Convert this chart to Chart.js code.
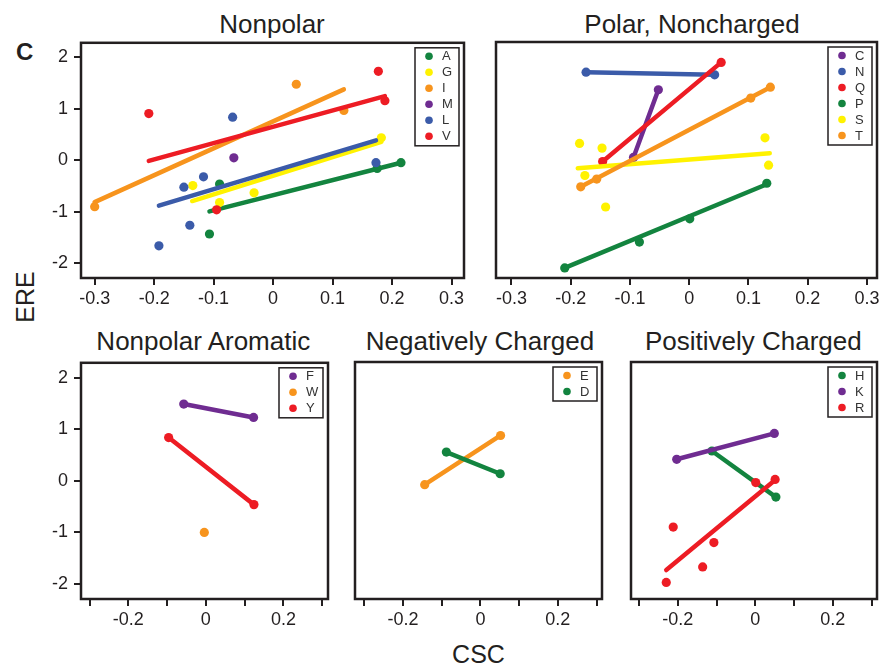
<!DOCTYPE html>
<html>
<head>
<meta charset="utf-8">
<script src="https://cdn.jsdelivr.net/npm/chart.js@4.4.1/dist/chart.umd.min.js"></script>
<style>
  body { margin: 0; background: #fff; }
  #wrap { position: relative; width: 881px; height: 668px; overflow: hidden;
          font-family: "Liberation Sans", Arial, sans-serif; color: #231f20; }
  #wrap canvas { position: absolute; }
  .txt { position: absolute; white-space: nowrap; }
  .title { font-size: 26px; line-height: 26px; transform: translateX(-50%); }
</style>
</head>
<body>
<div id="wrap">
  <div class="txt" style="left:24.7px; top:39.7px; font-size:24px; line-height:24px; font-weight:bold; transform:translateX(-50%);">C</div>
  <div class="txt title" style="left:272px; top:10.5px;">Nonpolar</div>
  <div class="txt title" style="left:692px; top:10.5px;">Polar, Noncharged</div>
  <div class="txt title" style="left:203.3px; top:328px;">Nonpolar Aromatic</div>
  <div class="txt title" style="left:480px; top:328px;">Negatively Charged</div>
  <div class="txt title" style="left:753.3px; top:328px;">Positively Charged</div>
  <div class="txt" style="left:25.2px; top:297px; font-size:25px; line-height:25px; transform:translate(-50%,-50%) rotate(-90deg);">ERE</div>
  <div class="txt" style="left:478.5px; top:642px; font-size:25px; line-height:25px; transform:translateX(-50%);">CSC</div>
</div>
<script>
  // tick values and labels
  const xTicks = [-0.3, -0.2, -0.1, 0, 0.1, 0.2, 0.3];
  const xLabelsTop = ['-0.3', '-0.2', '-0.1', '0', '0.1', '0.2', '0.3'];
  const xLabelsBottom = ['', '-0.2', '', '0', '', '0.2', ''];
  const yTicks = [-2, -1, 0, 1, 2];
  const yLabels = ['-2', '-1', '0', '1', '2'];

  // Nonpolar  [CSC, ERE]
  const ptsA = [[-0.107, -1.43], [-0.090, -0.46], [0.175, -0.155], [0.215, -0.045]];
  const fitA = [[-0.107, -0.99], [0.215, -0.045]];
  const ptsG = [[-0.135, -0.49], [-0.090, -0.82], [-0.032, -0.63], [0.182, 0.44]];
  const fitG = [[-0.136, -0.79], [0.182, 0.36]];
  const ptsI = [[-0.300, -0.90], [0.039, 1.48], [0.119, 0.97]];
  const fitI = [[-0.300, -0.81], [0.119, 1.38]];
  const ptsM = [[-0.066, 0.05]];
  const ptsL = [[-0.192, -1.66], [-0.150, -0.52], [-0.140, -1.26], [-0.117, -0.32], [-0.068, 0.84], [0.173, -0.045]];
  const fitL = [[-0.192, -0.88], [0.173, 0.39]];
  const ptsV = [[-0.209, 0.91], [-0.095, -0.96], [0.177, 1.73], [0.188, 1.16]];
  const fitV = [[-0.209, -0.01], [0.188, 1.25]];

  // Polar, Noncharged
  const ptsC = [[-0.094, 0.05], [-0.052, 1.36]];
  const ptsN = [[-0.174, 1.70], [0.043, 1.65]];
  const ptsQ = [[-0.146, -0.03], [0.054, 1.89]];
  const ptsP = [[-0.210, -2.09], [-0.084, -1.59], [0.001, -1.14], [0.131, -0.45]];
  const fitP = [[-0.210, -2.09], [0.131, -0.47]];
  const ptsS = [[-0.185, 0.32], [-0.147, 0.23], [-0.176, -0.30], [-0.141, -0.91], [0.128, 0.43], [0.134, -0.10]];
  const fitS = [[-0.188, -0.16], [0.136, 0.13]];
  const ptsT = [[-0.183, -0.52], [-0.156, -0.37], [0.104, 1.20], [0.137, 1.41]];
  const fitT = [[-0.183, -0.52], [0.137, 1.41]];

  // Nonpolar Aromatic
  const ptsF = [[-0.057, 1.49], [0.123, 1.23]];
  const ptsW = [[-0.004, -1.00]];
  const ptsY = [[-0.096, 0.84], [0.124, -0.46]];

  // Negatively Charged
  const ptsE = [[-0.144, -0.08], [0.052, 0.87]];
  const ptsD = [[-0.088, 0.55], [0.051, 0.13]];

  // Positively Charged
  const ptsH = [[-0.112, 0.57], [0.053, -0.32]];
  const ptsK = [[-0.203, 0.41], [0.049, 0.91]];
  const ptsR = [[-0.230, -1.97], [-0.212, -0.90], [-0.136, -1.67], [-0.107, -1.20], [0.001, -0.04], [0.051, 0.02]];
  const fitR = [[-0.230, -1.73], [0.051, 0.01]];

  const INK = '#231f20';
  const FONT = '"Liberation Sans", Arial, sans-serif';
  const GREEN = '#13843f', YELLOW = '#fff200', ORANGE = '#f7941d',
        PURPLE = '#6f2c91', BLUE = '#3b5ba9', RED = '#ed1c24';

  const wrap = document.getElementById('wrap');

  // box around the plot area
  const boxFrame = {
    id: 'boxFrame',
    afterDraw(chart) {
      const a = chart.chartArea, c = chart.ctx;
      c.save();
      c.strokeStyle = INK;
      c.lineWidth = 2.5;
      c.strokeRect(a.left, a.top, a.right - a.left, a.bottom - a.top);
      c.restore();
    }
  };

  // small boxed legend in the top right corner
  function boxLegend(series) {
    return {
      id: 'boxLegend',
      afterDraw(chart) {
        const a = chart.chartArea, c = chart.ctx;
        const w = 44, rowH = 16, h = series.length * rowH + 2;
        const x0 = a.right - 5 - w, y0 = a.top + 5;
        c.save();
        c.fillStyle = '#fff';
        c.fillRect(x0, y0, w, h);
        c.strokeStyle = INK;
        c.lineWidth = 1.5;
        c.strokeRect(x0, y0, w, h);
        c.font = '13px ' + FONT;
        c.textBaseline = 'middle';
        c.textAlign = 'left';
        series.forEach((s, i) => {
          const cy = y0 + 8.5 + i * rowH;
          c.fillStyle = s.color;
          c.beginPath();
          c.arc(x0 + 14, cy, 3.8, 0, Math.PI * 2);
          c.fill();
          c.fillStyle = '#333';
          c.fillText(s.name, x0 + 27, cy + 0.5);
        });
        c.restore();
      }
    };
  }

  const xy = arr => arr.map(p => ({ x: p[0], y: p[1] }));

  function makePanel(f, series, xLabels, showY) {
    // padT is larger than half a tick label so Chart.js keeps the plot top where we put it
    const padL = 50, padT = 16, padR = 8, axisH = 40;
    const cv = document.createElement('canvas');
    cv.width = f.w + padL + padR;
    cv.height = f.h + padT + axisH;
    cv.style.left = (f.left - padL) + 'px';
    cv.style.top = (f.top - padT) + 'px';
    wrap.appendChild(cv);

    const datasets = [];
    series.forEach(s => {
      datasets.push({
        data: xy(s.pts),
        backgroundColor: s.color,
        pointBorderWidth: 0,
        pointRadius: 4.6,
        pointHoverRadius: 4.6,
        showLine: false
      });
      const line = s.fit || (s.pts.length > 1 ? s.pts : null);
      if (line) {
        datasets.push({
          data: xy(line),
          borderColor: s.color,
          borderWidth: 4.5,
          borderCapStyle: 'round',
          pointRadius: 0,
          showLine: true,
          fill: false
        });
      }
    });
    // first dataset is painted last, so the last series ends up on top
    datasets.reverse();

    new Chart(cv, {
      type: 'scatter',
      data: { datasets: datasets },
      options: {
        responsive: false,
        animation: false,
        events: [],
        layout: { padding: { left: 0, top: padT, right: padR, bottom: 0 } },
        plugins: { legend: { display: false }, tooltip: { enabled: false } },
        scales: {
          x: {
            type: 'linear',
            position: 'bottom',
            min: f.xMin,
            max: f.xMax,
            afterBuildTicks: s => { s.ticks = xTicks.map(v => ({ value: v })); },
            afterFit: s => { s.height = axisH; },
            ticks: {
              callback: (v, i) => xLabels[i],
              font: { size: 18, family: FONT },
              color: INK,
              padding: 3,
              maxRotation: 0,
              autoSkip: false
            },
            grid: { drawOnChartArea: false, drawTicks: true, tickLength: 7, lineWidth: 2, color: INK },
            border: { display: false }
          },
          y: {
            type: 'linear',
            min: f.yMin,
            max: f.yMax,
            afterBuildTicks: s => { s.ticks = yTicks.map(v => ({ value: v })); },
            afterFit: s => { s.width = padL; },
            ticks: {
              display: showY,
              callback: (v, i) => yLabels[i],
              font: { size: 18, family: FONT },
              color: INK,
              padding: 6
            },
            grid: { display: showY, drawOnChartArea: false, drawTicks: true, tickLength: 7, lineWidth: 2, color: INK },
            border: { display: false }
          }
        }
      },
      plugins: [boxFrame, boxLegend(series)]
    });
  }

  makePanel({ left: 81, top: 42, w: 383, h: 236, xMin: -0.323, xMax: 0.321, yMin: -2.285, yMax: 2.285 }, [
    { name: 'A', color: GREEN, pts: ptsA, fit: fitA },
    { name: 'G', color: YELLOW, pts: ptsG, fit: fitG },
    { name: 'I', color: ORANGE, pts: ptsI, fit: fitI },
    { name: 'M', color: PURPLE, pts: ptsM },
    { name: 'L', color: BLUE, pts: ptsL, fit: fitL },
    { name: 'V', color: RED, pts: ptsV, fit: fitV }
  ], xLabelsTop, true);

  makePanel({ left: 496, top: 42, w: 381, h: 236, xMin: -0.326, xMax: 0.317, yMin: -2.285, yMax: 2.285 }, [
    { name: 'C', color: PURPLE, pts: ptsC },
    { name: 'N', color: BLUE, pts: ptsN },
    { name: 'Q', color: RED, pts: ptsQ },
    { name: 'P', color: GREEN, pts: ptsP, fit: fitP },
    { name: 'S', color: YELLOW, pts: ptsS, fit: fitS },
    { name: 'T', color: ORANGE, pts: ptsT, fit: fitT }
  ], xLabelsTop, false);

  makePanel({ left: 81, top: 362, w: 247, h: 237, xMin: -0.322, xMax: 0.315, yMin: -2.29, yMax: 2.29 }, [
    { name: 'F', color: PURPLE, pts: ptsF },
    { name: 'W', color: ORANGE, pts: ptsW },
    { name: 'Y', color: RED, pts: ptsY }
  ], xLabelsBottom, true);

  makePanel({ left: 355, top: 362, w: 247, h: 237, xMin: -0.324, xMax: 0.314, yMin: -2.29, yMax: 2.29 }, [
    { name: 'E', color: ORANGE, pts: ptsE },
    { name: 'D', color: GREEN, pts: ptsD }
  ], xLabelsBottom, false);

  makePanel({ left: 631, top: 362, w: 246, h: 237, xMin: -0.321, xMax: 0.314, yMin: -2.29, yMax: 2.29 }, [
    { name: 'H', color: GREEN, pts: ptsH },
    { name: 'K', color: PURPLE, pts: ptsK },
    { name: 'R', color: RED, pts: ptsR, fit: fitR }
  ], xLabelsBottom, false);
</script>
</body>
</html>
